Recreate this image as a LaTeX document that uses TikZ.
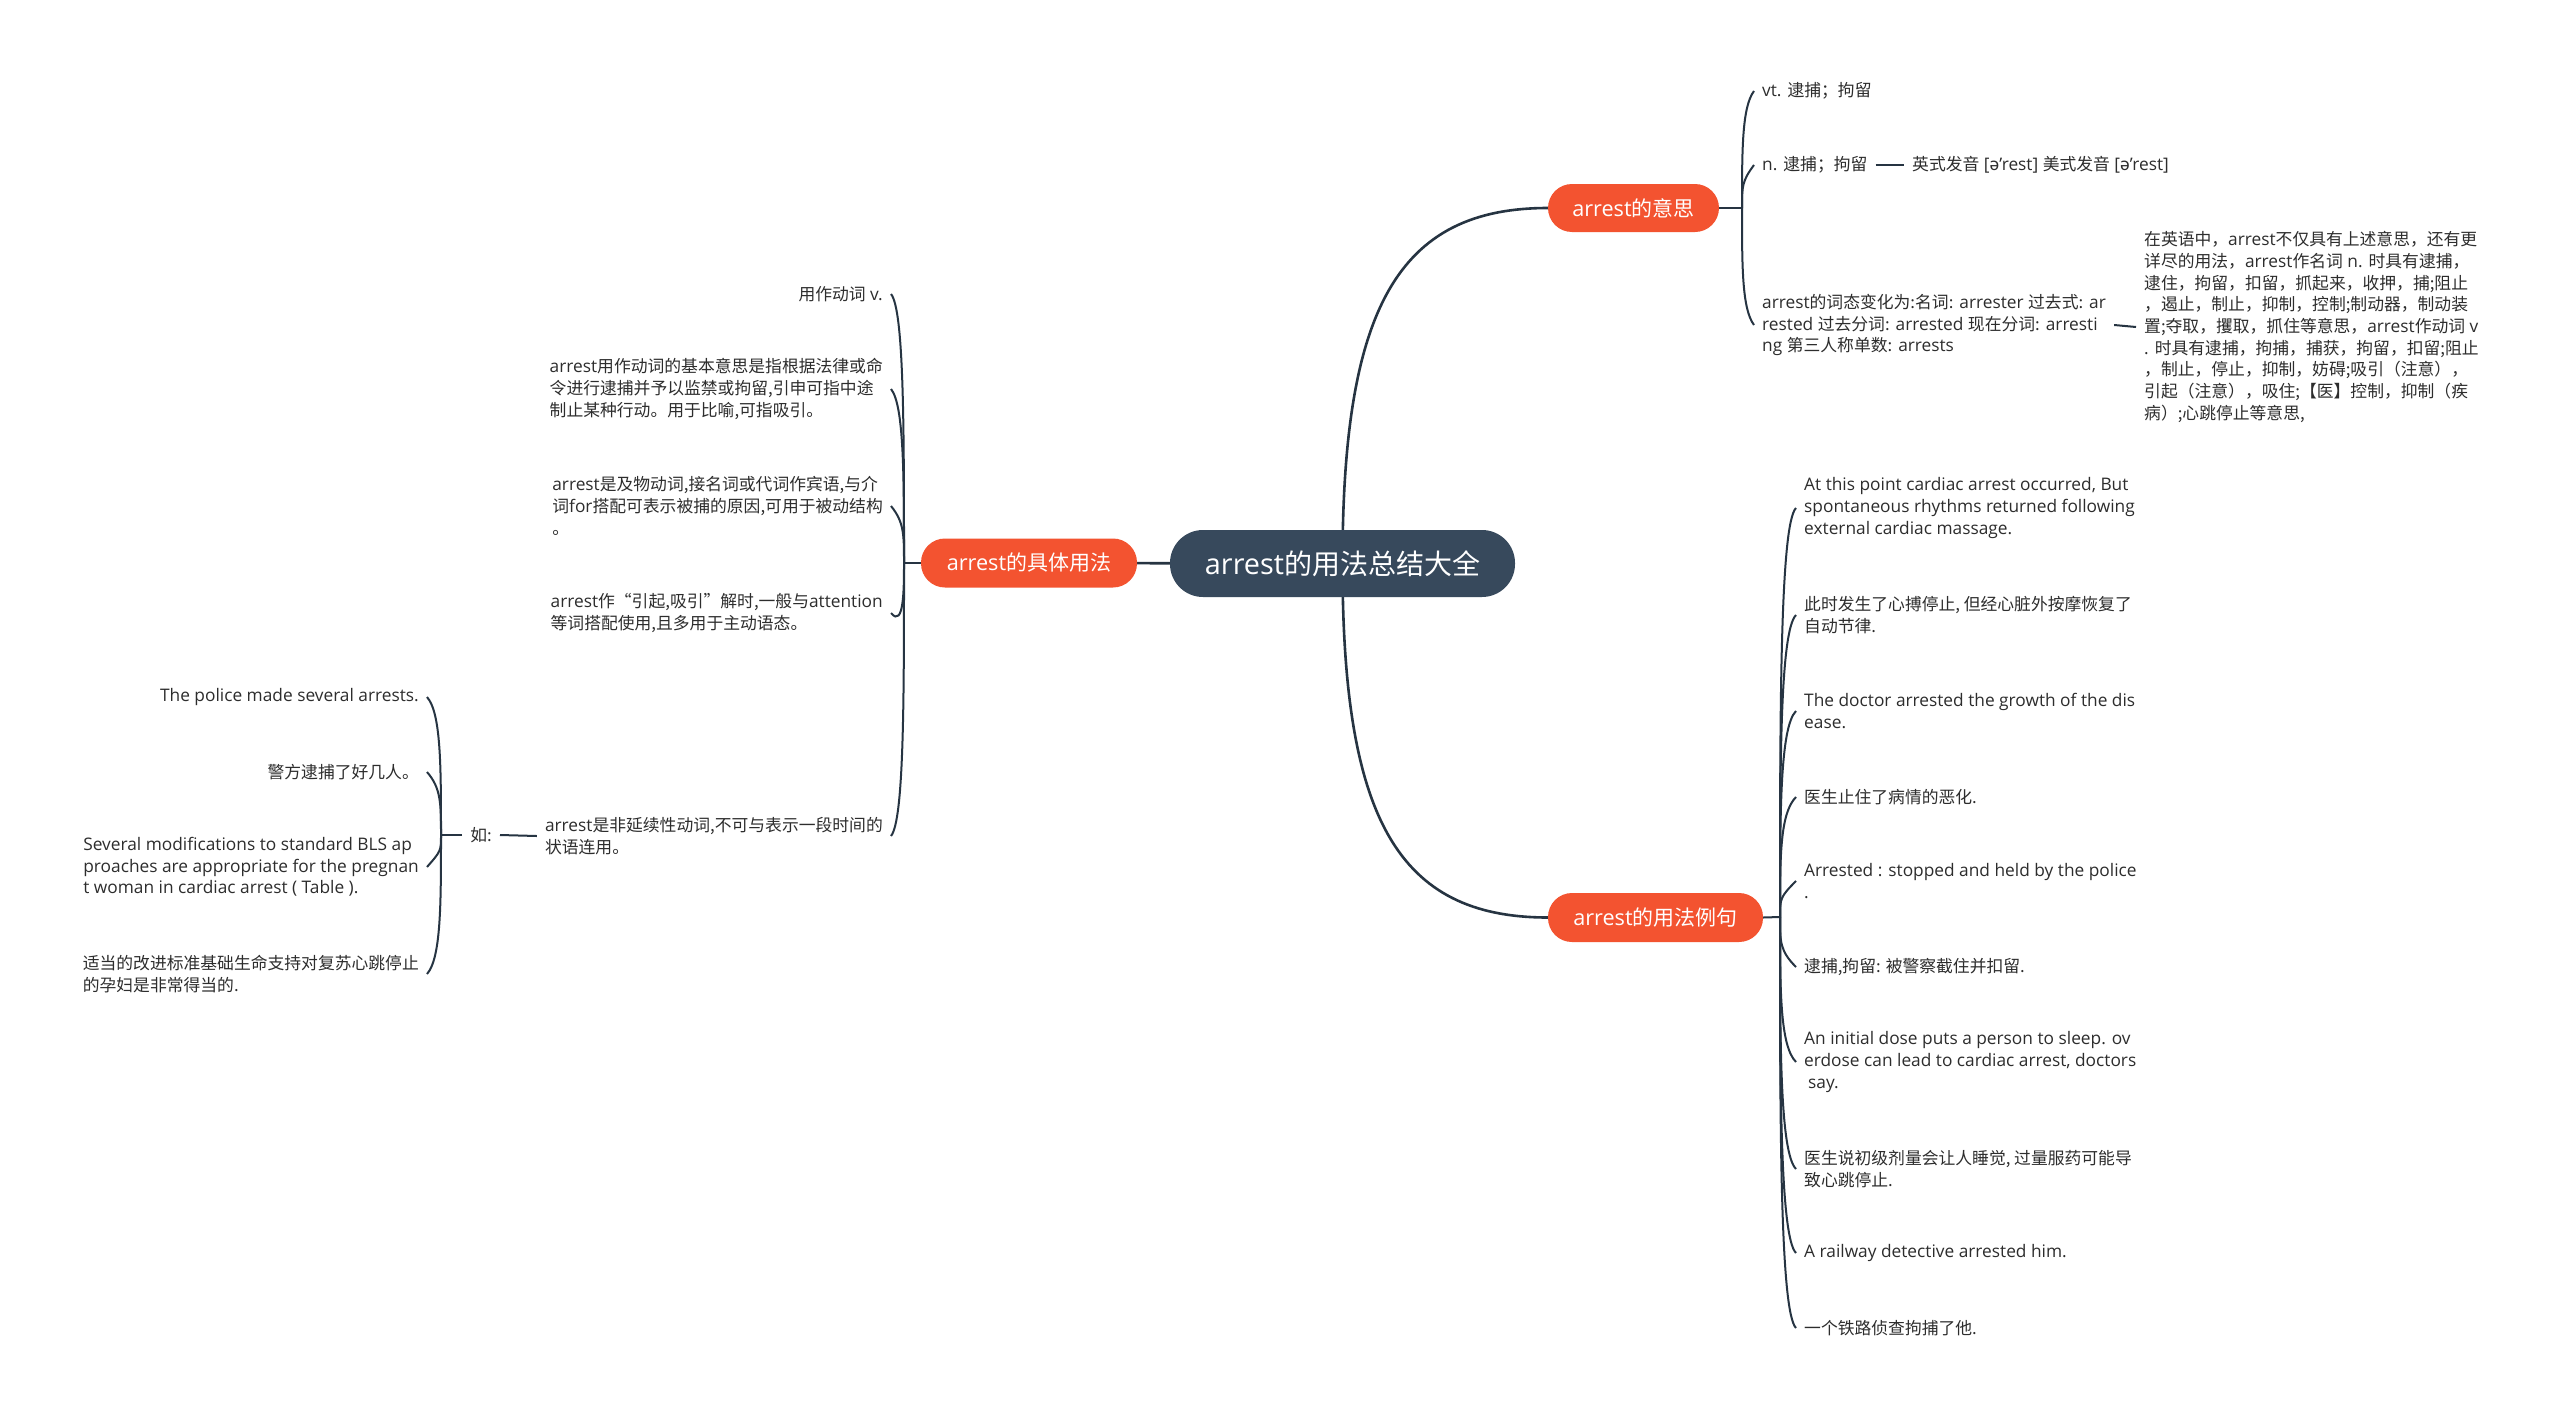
\documentclass[tikz,border=0pt]{standalone}
\usepackage{fontspec}
\setmainfont{Open Sans}[Scale=1.03]
\newfontfamily\cjkfont{Noto Sans CJK SC}
\newfontfamily\ipafont{Noto Sans}[Scale=1.03]
\newcommand\zh[1]{{\cjkfont #1}}
\newcommand\schwa{{\ipafont ə}}
\usetikzlibrary{calc,backgrounds}
\definecolor{mainC}{RGB}{55,73,92}
\definecolor{orng}{RGB}{243,83,48}
\definecolor{lineC}{RGB}{38,52,66}
\definecolor{txt}{RGB}{45,45,45}
\tikzset{
  root/.style={fill=mainC, text=white, rounded corners=33pt, minimum width=345pt,
    minimum height=67pt, inner sep=0pt, font=\fontsize{28}{32}\selectfont},
  branch/.style={fill=orng, text=white, rounded corners=24pt, minimum height=49pt,
    inner sep=0pt, font=\fontsize{21}{25}\selectfont},
  leaf/.style={text=txt, inner xsep=8pt, inner ysep=3pt, align=left,
    font=\fontsize{16.8}{21.7}\selectfont},
  conn/.style={draw=lineC, line width=2pt},
  mainconn/.style={draw=lineC, line width=2.6pt},
}
% #1 trunk coordinate, #2 child node, #3 anchor, #4 signed hook height
\newcommand\brhook[4]{\draw[conn] (#1) .. controls ($(#1)!0.5!(#1|-#2.#3)$) and ($(#1|-#2.#3)+(0,#4)$) .. (#2.#3);}
\begin{document}
\begin{tikzpicture}[x=1pt,y=-1pt]
\useasboundingbox (0,0) rectangle (2560,1419);
% main nodes
\node[root] (C) at (1342.5,563.5) {arrest\zh{的用法总结大全}};
\node[branch, minimum width=216pt] (L) at (1029,563) {arrest\zh{的具体用法}};
\node[branch, minimum width=171pt, minimum height=48pt] (R1) at (1633.5,208) {arrest\zh{的意思}};
\node[branch, minimum width=215pt] (R2) at (1655.5,917.5) {arrest\zh{的用法例句}};
% trunk coordinates
\coordinate (Lt) at (904,563);
\coordinate (Rt) at (441,835);
\coordinate (At) at (1742,208);
\coordinate (Bt) at (1780,917);
% left leaves
\node[leaf, anchor=east] (l1) at (891,294) {\zh{用作动词} v.};
\node[leaf, anchor=east] (l2) at (891,389) {arrest\zh{用作动词的基本意思是指根据法律或命}\\\zh{令进行逮捕并予以监禁或拘留,引申可指中途}\\\zh{制止某种行动。用于比喻,可指吸引。}};
\node[leaf, anchor=east] (l3) at (891,506) {arrest\zh{是及物动词,接名词或代词作宾语,与介}\\\zh{词}for\zh{搭配可表示被捕的原因,可用于被动结构}\\\zh{。}};
\node[leaf, anchor=east] (l4) at (891,613) {arrest\zh{作“引起,吸引”解时,一般与}attention\\\zh{等词搭配使用,且多用于主动语态。}};
\node[leaf, anchor=east] (l5) at (891,836) {arrest\zh{是非延续性动词,不可与表示一段时间的}\\\zh{状语连用。}};
\node[leaf, anchor=east] (ru) at (500,835) {\zh{如:}};
\node[leaf, anchor=east] (r1) at (427,697) {The police made several arrests.};
\node[leaf, anchor=east] (r2) at (427,772) {\zh{警方逮捕了好几人。}};
\node[leaf, anchor=east] (r3) at (427,867) {Several modifications to standard BLS ap\\proaches are appropriate for the pregnan\\t woman in cardiac arrest ( Table ).};
\node[leaf, anchor=east] (r4) at (427,974) {\zh{适当的改进标准基础生命支持对复苏心跳停止}\\\zh{的孕妇是非常得当的.}};
% right top leaves
\node[leaf, anchor=west] (a1) at (1754,91) {vt. \zh{逮捕；拘留}};
\node[leaf, anchor=west] (a2) at (1754,165) {n. \zh{逮捕；拘留}};
\node[leaf, anchor=west] (a2b) at (1904,165) {\zh{英式发音} [\schwa\char"27 rest] \zh{美式发音} [\schwa\char"27 rest]};
\node[leaf, anchor=west] (a3) at (1754,325) {arrest\zh{的词态变化为:名词:} arrester \zh{过去式:} ar\\rested \zh{过去分词:} arrested \zh{现在分词:} arresti\\ng \zh{第三人称单数:} arrests};
\node[leaf, anchor=west] (a3b) at (2136,327) {\zh{在英语中，}arrest\zh{不仅具有上述意思，还有更}\\\zh{详尽的用法，}arrest\zh{作名词} n. \zh{时具有逮捕，}\\\zh{逮住，拘留，扣留，抓起来，收押，捕;阻止}\\\zh{，遏止，制止，抑制，控制;制动器，制动装}\\\zh{置;夺取，攫取，抓住等意思，}arrest\zh{作动词} v\\. \zh{时具有逮捕，拘捕，捕获，拘留，扣留;阻止}\\\zh{，制止，停止，抑制，妨碍;吸引（注意），}\\\zh{引起（注意），吸住;【医】控制，抑制（疾}\\\zh{病）;心跳停止等意思,}};
% right bottom leaves
\node[leaf, anchor=west] (b1) at (1796,508) {At this point cardiac arrest occurred, But\\spontaneous rhythms returned following\\external cardiac massage.};
\node[leaf, anchor=west] (b2) at (1796,615) {\zh{此时发生了心搏停止, 但经心脏外按摩恢复了}\\\zh{自动节律.}};
\node[leaf, anchor=west] (b3) at (1796,711) {The doctor arrested the growth of the dis\\ease.};
\node[leaf, anchor=west] (b4) at (1796,797) {\zh{医生止住了病情的恶化.}};
\node[leaf, anchor=west] (b5) at (1796,881) {Arrested : stopped and held by the police\\.};
\node[leaf, anchor=west] (b6) at (1796,967) {\zh{逮捕,拘留: 被警察截住并扣留.}};
\node[leaf, anchor=west] (b7) at (1796,1062) {An initial dose puts a person to sleep. ov\\erdose can lead to cardiac arrest, doctors\\\hspace*{4pt}say.};
\node[leaf, anchor=west] (b8) at (1796,1169) {\zh{医生说初级剂量会让人睡觉, 过量服药可能导}\\\zh{致心跳停止.}};
\node[leaf, anchor=west] (b9) at (1796,1253) {A railway detective arrested him.};
\node[leaf, anchor=west] (b10) at (1796,1328) {\zh{一个铁路侦查拘捕了他.}};
% connectors
\begin{scope}[on background layer]
\fill[white] (0,0) rectangle (2560,1419);
\draw[mainconn] (C.center) .. controls +(0,-255) and +(-150,0) .. (R1.west);
\draw[mainconn] (C.center) .. controls +(0,255) and +(-150,0) .. (R2.west);
\draw[mainconn] (C.center) -- (L.center);
\end{scope}
\draw[conn] (L.west) -- (Lt);
\brhook{Lt}{l1}{east}{16}
\brhook{Lt}{l2}{east}{16}
\brhook{Lt}{l3}{east}{16}
\brhook{Lt}{l4}{east}{16}
\brhook{Lt}{l5}{east}{-16}
\draw[conn] (l5.west) -- (ru.east);
\draw[conn] (ru.west) -- (Rt);
\brhook{Rt}{r1}{east}{16}
\brhook{Rt}{r2}{east}{16}
\brhook{Rt}{r3}{east}{-16}
\brhook{Rt}{r4}{east}{-16}
\draw[conn] (R1.east) -- (At);
\brhook{At}{a1}{west}{16}
\brhook{At}{a2}{west}{16}
\brhook{At}{a3}{west}{-16}
\draw[conn] (a2.east) -- (a2b.west);
\draw[conn] (a3.east) -- (a3b.west);
\draw[conn] (R2.east) -- (Bt);
\brhook{Bt}{b1}{west}{16}
\brhook{Bt}{b2}{west}{16}
\brhook{Bt}{b3}{west}{16}
\brhook{Bt}{b4}{west}{16}
\brhook{Bt}{b5}{west}{16}
\brhook{Bt}{b6}{west}{-16}
\brhook{Bt}{b7}{west}{-16}
\brhook{Bt}{b8}{west}{-16}
\brhook{Bt}{b9}{west}{-16}
\brhook{Bt}{b10}{west}{-16}
\end{tikzpicture}
\end{document}
